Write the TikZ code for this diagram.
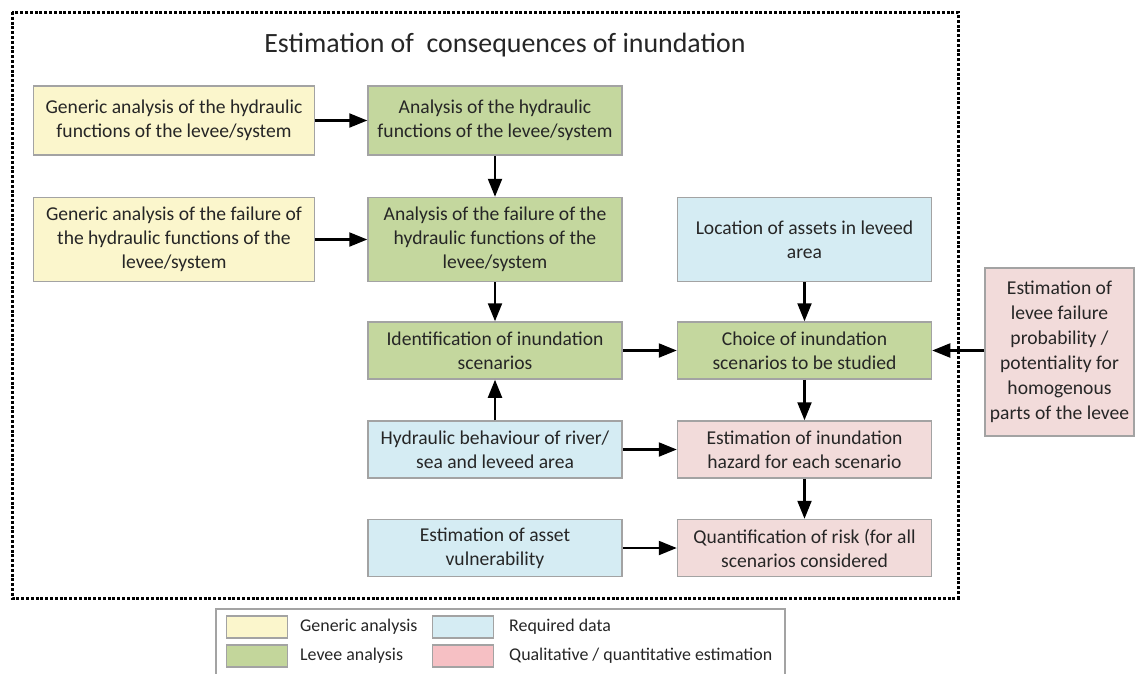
\documentclass[tikz,border=0pt]{standalone}
\usepackage{fontspec}
\setmainfont{Carlito}
\usetikzlibrary{arrows.meta}
\definecolor{txt}{HTML}{262626}
\definecolor{edge}{HTML}{A3A3A3}
\definecolor{genfill}{HTML}{FBF6CC}
\definecolor{levfill}{HTML}{C4D79E}
\definecolor{datfill}{HTML}{D5ECF3}
\definecolor{estfill}{HTML}{F2DBDA}
\definecolor{levkey}{HTML}{C3D69B}
\definecolor{estkey}{HTML}{F6C0C4}
\tikzset{
  x=1pt, y=-1pt,
  box/.style={draw=edge, line width=1.5pt, align=center, text=txt, inner sep=1pt,
    font=\fontsize{19.6}{24}\selectfont},
  wide/.style={box, minimum width=281pt},
  mid/.style={box, minimum width=254pt},
  tall/.style={minimum height=84pt},
  short/.style={minimum height=57pt},
  generic/.style={fill=genfill},
  levee/.style={fill=levfill},
  data/.style={fill=datfill},
  estim/.style={fill=estfill},
  flow/.style={line width=2.2pt, -{Triangle[length=18pt,width=14pt]}},
  keytext/.style={anchor=west, text=txt, font=\fontsize{17.9}{20}\selectfont, inner sep=0pt},
  swatch/.style={draw=edge, line width=1.2pt, minimum width=61pt, minimum height=22pt, inner sep=0pt}
}
\begin{document}
\begin{tikzpicture}
\useasboundingbox (0,0) rectangle (1137,673);
\clip (0,0) rectangle (1137,673);
\fill[white] (0,0) rectangle (1137,673);

% dashed frame around the inundation-consequence part
\draw[line width=3pt, dash pattern=on 3pt off 1.8pt] (12,12) rectangle (958,598);
\node[text=txt, font=\fontsize{27.9}{32}\selectfont] (title) at (505,45) {Estimation of \ consequences of inundation};

% boxes
\node[wide, generic, minimum height=69pt] (gen1) at (174,120.5) {Generic analysis of the hydraulic\\functions of the levee/system};
\node[mid, levee, minimum height=69pt] (ana1) at (495,120.5) {Analysis of the hydraulic\\functions of the levee/system};
\node[wide, generic, tall] (gen2) at (174,239.5) {Generic analysis of the failure of\\the hydraulic functions of the\\levee/system};
\node[mid, levee, tall] (ana2) at (495,239.5) {Analysis of the failure of the\\hydraulic functions of the\\levee/system};
\node[mid, data, tall] (loc) at (804.5,239.5) {Location of assets in leveed\\area};
\node[mid, levee, short] (ident) at (495,350.5) {Identification of inundation\\scenarios};
\node[mid, levee, short] (choice) at (804.5,350.5) {Choice of inundation\\scenarios to be studied};
\node[box, estim, minimum width=149pt, minimum height=168pt, font=\fontsize{19.6}{25}\selectfont] (prob) at (1059.5,352) {Estimation of\\levee failure\\probability /\\potentiality for\\homogenous\\parts of the levee};
\node[mid, data, short] (hydr) at (495,449.5) {Hydraulic behaviour of river/\\sea and leveed area};
\node[mid, estim, short] (hazard) at (804.5,449.5) {Estimation of inundation\\hazard for each scenario};
\node[mid, data, short] (vuln) at (495,548) {Estimation of asset\\vulnerability};
\node[mid, estim, short] (risk) at (804.5,548) {Quantification of risk (for all\\scenarios considered};

% connectors
\draw[flow] (gen1) -- (ana1);
\draw[flow] (gen2) -- (ana2);
\draw[flow] (ana1) -- (ana2);
\draw[flow] (ana2) -- (ident);
\draw[flow] (hydr) -- (ident);
\draw[flow] (ident.east |- choice.west) -- (choice.west);
\draw[flow] (loc) -- (choice);
\draw[flow] (prob.west |- choice.east) -- (choice.east);
\draw[flow] (choice) -- (hazard);
\draw[flow] (hydr) -- (hazard);
\draw[flow] (hazard) -- (risk);
\draw[flow] (vuln) -- (risk);

% legend
\draw[edge, line width=1.4pt, fill=white] (216,609) rectangle (785,690);
\node[swatch, fill=genfill] (kgen) at (257,627) {};
\node[swatch, fill=levkey] (klev) at (257,656) {};
\node[swatch, fill=datfill] (kdat) at (463,627) {};
\node[swatch, fill=estkey] (kest) at (463,656) {};
\node[keytext] (lgen) at (300,627) {Generic analysis};
\node[keytext] (llev) at (300,656) {Levee analysis};
\node[keytext] (ldat) at (509,627) {Required data};
\node[keytext] (lest) at (509,656) {Qualitative / quantitative estimation};
\end{tikzpicture}
\end{document}
